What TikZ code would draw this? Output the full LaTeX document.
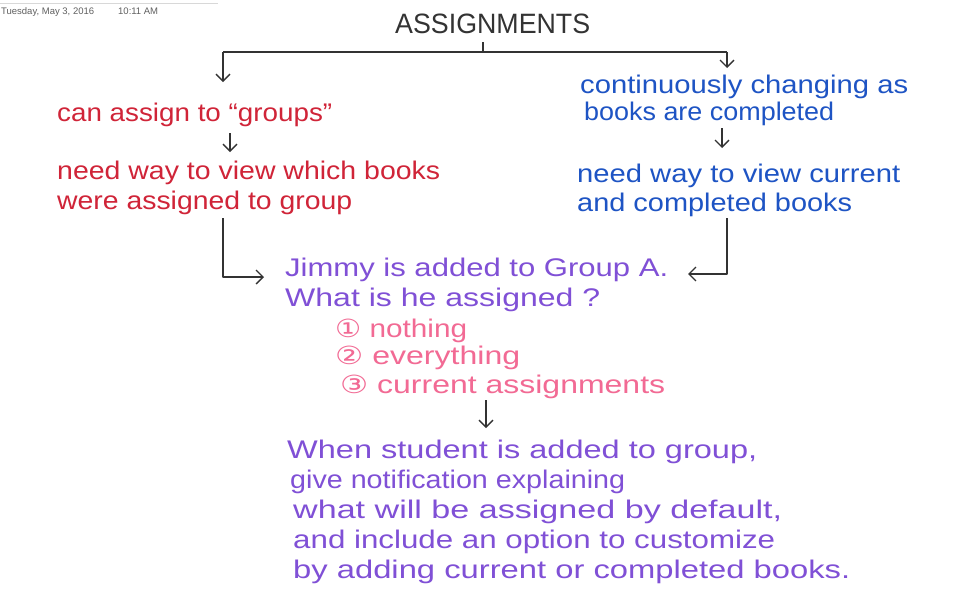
\documentclass[tikz,border=0pt]{standalone}
\usepackage{fontspec}
\usepackage{graphicx}
\setmainfont{Liberation Sans}
\newfontfamily\circfont{DejaVu Sans}
\usetikzlibrary{arrows.meta}
\definecolor{hred}{RGB}{208,36,56}
\definecolor{hblue}{RGB}{30,84,196}
\definecolor{hpurple}{RGB}{128,80,214}
\definecolor{hpink}{RGB}{242,106,148}
\definecolor{hink}{RGB}{51,51,51}
\definecolor{hgray}{RGB}{96,96,96}
\newcommand{\hw}[2]{\resizebox{#1pt}{\height}{#2}}
\newcommand{\circd}[1]{{\circfont\fontsize{25}{28}\selectfont #1}}
\tikzset{
  hand/.style={anchor=base west, inner sep=0pt, font=\fontsize{25.5}{30}\selectfont},
  conn/.style={draw=hink, line width=1.3pt, line join=round},
  arr/.style={conn, -{Straight Barb[length=7pt,width=14pt,line width=1.3pt]}},
  datestyle/.style={anchor=base west, inner sep=0pt, text=hgray, font=\fontsize{9.5}{11}\selectfont},
}
\begin{document}
\begin{tikzpicture}[x=1pt,y=-1pt]
\useasboundingbox (0,0) rectangle (956,606);
\fill[white] (0,0) rectangle (956,606);
% header
\draw[draw={rgb,255:red,216;green,216;blue,216}, line width=1pt] (0,3) -- (218,3);
\node[datestyle] (date) at (1,14) {Tuesday, May 3, 2016};
\node[datestyle] (time) at (118,14) {10:11 AM};
% title
\node[hand, text=hink, font=\fontsize{28}{32}\selectfont] (title) at (395,33) {\hw{195}{ASSIGNMENTS}};
% red column
\node[hand, text=hred] (r1) at (57,121) {\hw{275}{can assign to “groups”}};
\node[hand, text=hred] (r2) at (57,179) {\hw{383}{need way to view which books}};
\node[hand, text=hred] (r3) at (57,209) {\hw{295}{were assigned to group}};
% blue column
\node[hand, text=hblue] (b1) at (580,93) {\hw{328}{continuously changing as}};
\node[hand, text=hblue] (b2) at (584,120) {\hw{250}{books are completed}};
\node[hand, text=hblue] (b3) at (577,182) {\hw{323}{need way to view current}};
\node[hand, text=hblue] (b4) at (577,211) {\hw{275}{and completed books}};
% center question
\node[hand, text=hpurple] (q1) at (285,276) {\hw{383}{Jimmy is added to Group A.}};
\node[hand, text=hpurple] (q2) at (285,306) {\hw{315}{What is he assigned ?}};
\node[hand, text=hpink] (o1) at (335,337) {\hw{132}{\circd{①} nothing}};
\node[hand, text=hpink] (o2) at (335,364) {\hw{185}{\circd{②} everything}};
\node[hand, text=hpink] (o3) at (340,393) {\hw{325}{\circd{③} current assignments}};
% conclusion
\node[hand, text=hpurple] (c1) at (287,458) {\hw{470}{When student is added to group,}};
\node[hand, text=hpurple] (c2) at (290,488) {\hw{335}{give notification explaining}};
\node[hand, text=hpurple] (c3) at (293,518) {\hw{489}{what will be assigned by default,}};
\node[hand, text=hpurple] (c4) at (293,548) {\hw{482}{and include an option to customize}};
\node[hand, text=hpurple] (c5) at (293,578) {\hw{557}{by adding current or completed books.}};
% connector coordinates
\coordinate (tk) at (483,42);
\coordinate (bm) at (483,52);
\coordinate (bl) at (223,52);
\coordinate (br) at (727,52);
\coordinate (blend) at (223,82);
\coordinate (brend) at (727,68);
\coordinate (ra) at (230,133);
\coordinate (rb) at (230,152);
\coordinate (ba) at (722,128);
\coordinate (bb) at (722,148);
\coordinate (ls) at (223,218);
\coordinate (lc) at (223,277);
\coordinate (le) at (264,277);
\coordinate (rs) at (727,218);
\coordinate (rc) at (727,274);
\coordinate (re) at (688,274);
\coordinate (ma) at (486,400);
\coordinate (mb) at (486,428);
% connectors
\draw[conn] (tk) -- (bm);
\draw[conn] (bl) -- (br);
\draw[arr] (bl) -- (blend);
\draw[arr] (br) -- (brend);
\draw[arr] (ra) -- (rb);
\draw[arr] (ba) -- (bb);
\draw[arr] (ls) -- (lc) -- (le);
\draw[arr] (rs) -- (rc) -- (re);
\draw[arr] (ma) -- (mb);
\end{tikzpicture}
\end{document}
